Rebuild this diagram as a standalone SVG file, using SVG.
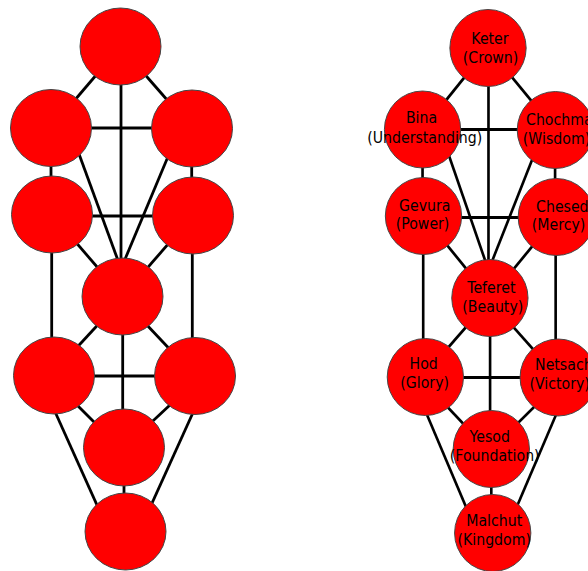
<svg xmlns="http://www.w3.org/2000/svg" width="588" height="571" viewBox="0 0 588 571">
<style>
.ln{stroke:#000;stroke-width:2.8;fill:none}
.nd{fill:#ff0000;stroke:#444;stroke-width:1}
.t{font-family:"DejaVu Sans",Verdana,sans-serif;font-size:15px;fill:#000;text-anchor:middle}
</style>
<rect width="588" height="571" fill="#fff"/>
<defs>
<g id="tree-lines">
<line x1="120.5" y1="46.5" x2="51" y2="128"/>
<line x1="120.5" y1="46.5" x2="192" y2="128.5"/>
<line x1="121" y1="46.5" x2="121" y2="296.5"/>
<line x1="51" y1="128" x2="192" y2="128"/>
<line x1="51" y1="128" x2="51" y2="214.5"/>
<line x1="191.7" y1="128.5" x2="191.7" y2="215.5"/>
<line x1="69.5" y1="128" x2="121.5" y2="270"/>
<line x1="180" y1="128" x2="120.5" y2="270"/>
<line x1="52" y1="216" x2="193" y2="216"/>
<line x1="52" y1="214.5" x2="122.5" y2="296.5"/>
<line x1="193" y1="215.5" x2="122.5" y2="296.5"/>
<line x1="51.7" y1="214.5" x2="51.7" y2="375.5"/>
<line x1="192.3" y1="215.5" x2="192.3" y2="376"/>
<line x1="124" y1="296.5" x2="51" y2="375.5"/>
<line x1="120" y1="296.5" x2="195" y2="376"/>
<line x1="122.7" y1="296.5" x2="122.7" y2="447.5"/>
<line x1="54" y1="376" x2="195" y2="376"/>
<line x1="47.5" y1="375.5" x2="119.5" y2="447.5"/>
<line x1="201" y1="376" x2="124.5" y2="447.5"/>
<line x1="52" y1="405" x2="101" y2="514"/>
<line x1="196" y1="406" x2="148" y2="512"/>
<line x1="124" y1="447.5" x2="124" y2="531.5"/>
</g>
</defs>

<g id="connectors">
<use href="#tree-lines" class="ln"/>
<use href="#tree-lines" class="ln" transform="matrix(0.942 0 0 1 374.5 1.5)"/>
</g>

<g id="left-tree">
<g id="l-keter"><ellipse class="nd" cx="120.5" cy="46.5" rx="40.5" ry="38.5"/></g>
<g id="l-bina"><ellipse class="nd" cx="51" cy="128" rx="40.5" ry="38.5"/></g>
<g id="l-chochma"><ellipse class="nd" cx="192" cy="128.5" rx="40.5" ry="38.5"/></g>
<g id="l-gevura"><ellipse class="nd" cx="52" cy="214.5" rx="40.5" ry="38.5"/></g>
<g id="l-chesed"><ellipse class="nd" cx="193" cy="215.5" rx="40.5" ry="38.5"/></g>
<g id="l-teferet"><ellipse class="nd" cx="122.5" cy="296.5" rx="40.5" ry="38.5"/></g>
<g id="l-hod"><ellipse class="nd" cx="54" cy="375.5" rx="40.5" ry="38.5"/></g>
<g id="l-netsach"><ellipse class="nd" cx="195" cy="376" rx="40.5" ry="38.5"/></g>
<g id="l-yesod"><ellipse class="nd" cx="124" cy="447.5" rx="40.5" ry="38.5"/></g>
<g id="l-malchut"><ellipse class="nd" cx="125.5" cy="531.5" rx="40.5" ry="38.5"/></g>
</g>

<g id="right-tree" transform="matrix(0.942 0 0 1 374.5 1.5)">
<g id="r-keter"><ellipse class="nd" cx="120.5" cy="46.5" rx="40.5" ry="38.5"/>
<text class="t" x="122.6" y="42.8">Keter</text><text class="t" x="123.2" y="61.2">(Crown)</text></g>
<g id="r-bina"><ellipse class="nd" cx="51" cy="128" rx="40.5" ry="38.5"/>
<text class="t" x="49.9" y="121.8">Bina</text><text class="t" x="53.3" y="141.2">(Understanding)</text></g>
<g id="r-chochma"><ellipse class="nd" cx="192" cy="128.5" rx="40.5" ry="38.5"/>
<text class="t" x="196.2" y="123.5">Chochma</text><text class="t" x="193.2" y="142.8">(Wisdom)</text></g>
<g id="r-gevura"><ellipse class="nd" cx="52" cy="214.5" rx="40.5" ry="38.5"/>
<text class="t" x="53.3" y="209.5">Gevura</text><text class="t" x="51" y="227.5">(Power)</text></g>
<g id="r-chesed"><ellipse class="nd" cx="193" cy="215.5" rx="40.5" ry="38.5"/>
<text class="t" x="199.4" y="210.2">Chesed</text><text class="t" x="195.4" y="228.5">(Mercy)</text></g>
<g id="r-teferet"><ellipse class="nd" cx="122.5" cy="296.5" rx="40.5" ry="38.5"/>
<text class="t" x="124" y="291.2">Teferet</text><text class="t" x="125.6" y="310.2">(Beauty)</text></g>
<g id="r-hod"><ellipse class="nd" cx="54" cy="375.5" rx="40.5" ry="38.5"/>
<text class="t" x="52.2" y="367.8">Hod</text><text class="t" x="53.3" y="386.8">(Glory)</text></g>
<g id="r-netsach"><ellipse class="nd" cx="195" cy="376" rx="40.5" ry="38.5"/>
<text class="t" x="201" y="368.5">Netsach</text><text class="t" x="196.6" y="387.8">(Victory)</text></g>
<g id="r-yesod"><ellipse class="nd" cx="124" cy="447.5" rx="40.5" ry="38.5"/>
<text class="t" x="122.3" y="440.2">Yesod</text><text class="t" x="127.6" y="459.2">(Foundation)</text></g>
<g id="r-malchut"><ellipse class="nd" cx="125.5" cy="531.5" rx="40.5" ry="38.5"/>
<text class="t" x="127.1" y="524.5">Malchut</text><text class="t" x="127.1" y="543.5">(Kingdom)</text></g>
</g>
</svg>
